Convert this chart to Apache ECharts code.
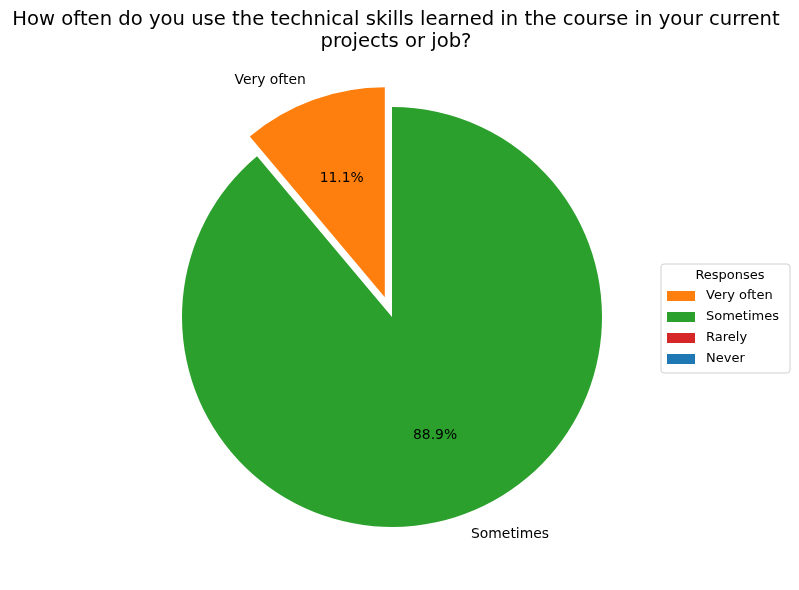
<!DOCTYPE html>
<html><head><meta charset="utf-8">
<script src="https://cdn.jsdelivr.net/npm/echarts@6/dist/echarts.min.js"></script>
<style>html,body{margin:0;padding:0;background:#fff}#c{width:799px;height:590px}</style>
</head><body><div id="c"></div>
<script>
const categories = ['Very often', 'Sometimes', 'Rarely', 'Never'];
const values = [1, 8, 0, 0];
const colors = ['#ff7f0e', '#2ca02c', '#d62728', '#1f77b4'];
const titleText = 'How often do you use the technical skills learned in the course in your current\nprojects or job?';
const legendTitle = 'Responses';

const FONT = 'DejaVu Sans';
const CX = 392, CY = 317, R = 210, EXPLODE = 21;

function items(kind) {
  return categories.map((n, i) => ({
    name: n, value: values[i], selected: i === 0,
    itemStyle: { color: kind === 'pct' ? 'rgba(0,0,0,0)' : colors[i] },
    label: { show: values[i] > 0 }
  }));
}

const chart = echarts.init(document.getElementById('c'), null, { renderer: 'canvas' });
chart.setOption({
  animation: false,
  color: colors,
  title: [
    { text: titleText, left: 391, top: 4, textAlign: 'center',
      textStyle: { fontFamily: FONT, fontSize: 19.6, fontWeight: 'normal', color: '#000', lineHeight: 22 } },
    { text: legendTitle, left: 725, top: 264, textAlign: 'center',
      textStyle: { fontFamily: FONT, fontSize: 13, fontWeight: 'normal', color: '#000' } }
  ],
  legend: {
    orient: 'vertical', left: 661, top: 264,
    data: categories,
    icon: 'rect', itemWidth: 28, itemHeight: 10, itemGap: 5,
    padding: [24, 11, 6, 6],
    borderColor: '#d0d0d0', borderWidth: 1, borderRadius: 3,
    textStyle: { fontFamily: FONT, fontSize: 13, color: '#000', lineHeight: 16, padding: [0, 0, 0, 6] },
    selectedMode: false
  },
  series: [
    {
      type: 'pie', center: [CX, CY], radius: [0, R],
      startAngle: 90, clockwise: false,
      selectedMode: 'multiple', selectedOffset: EXPLODE,
      avoidLabelOverlap: false, silent: true,
      label: { position: 'outside', formatter: '{b}', fontFamily: FONT, fontSize: 13.9, color: '#000', distanceToLabelLine: 0 },
      labelLine: { show: false, length: R * 0.1, length2: 0 },
      itemStyle: { borderWidth: 0 },
      emphasis: { disabled: true },
      data: items('name')
    },
    {
      type: 'pie', center: [CX, CY], radius: [R * 0.2 - 6, R],
      startAngle: 90, clockwise: false,
      selectedMode: 'multiple', selectedOffset: EXPLODE,
      avoidLabelOverlap: false, silent: true,
      label: { position: 'inside', formatter: p => p.percent.toFixed(1) + '%', fontFamily: FONT, fontSize: 13.9, color: '#000' },
      labelLine: { show: false },
      itemStyle: { borderWidth: 0 },
      emphasis: { disabled: true },
      data: items('pct')
    }
  ]
});
</script></body></html>
